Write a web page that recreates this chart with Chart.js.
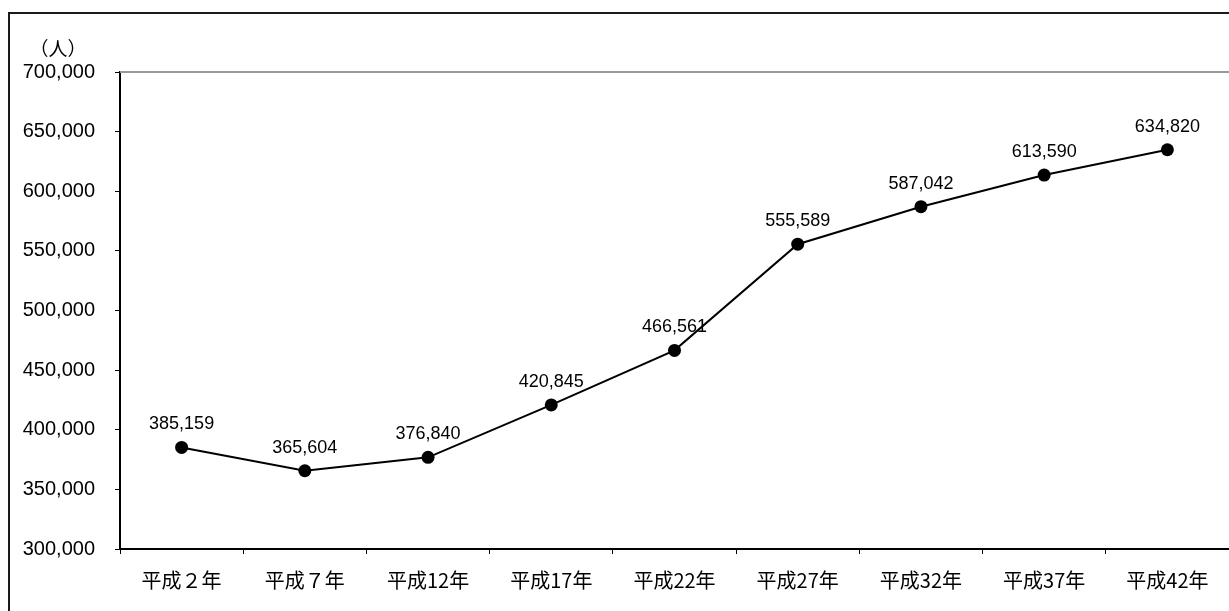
<!DOCTYPE html>
<html>
<head>
<meta charset="utf-8">
<script src="https://cdn.jsdelivr.net/npm/chart.js@4/dist/chart.umd.min.js"></script>
<style>
  html, body { margin: 0; padding: 0; background: #fff; }
  #wrap { width: 1229px; height: 611px; position: relative; }
</style>
</head>
<body>
<div id="wrap"><canvas id="grafico"></canvas></div>
<script>
const categorias = ['平成２年', '平成７年', '平成12年', '平成17年', '平成22年', '平成27年', '平成32年', '平成37年', '平成42年'];
const poblacion = [385159, 365604, 376840, 420845, 466561, 555589, 587042, 613590, 634820];
const ejeMin = 300000;
const ejeMax = 700000;
const ejePaso = 50000;
const unidad = '（人）';

const fmt = v => v.toLocaleString('en-US');

// marco exterior, borde superior gris, unidad y etiquetas de datos
const extras = {
    id: 'extras',
    beforeDraw(chart) {
        const ctx = chart.ctx;
        ctx.save();
        ctx.strokeStyle = '#1a1a1a';
        ctx.lineWidth = 2;
        ctx.strokeRect(9, 13, 1240, 640);
        ctx.restore();
    },
    afterDraw(chart) {
        const ctx = chart.ctx;
        const area = chart.chartArea;
        ctx.save();
        ctx.strokeStyle = '#999';
        ctx.lineWidth = 2;
        ctx.beginPath();
        ctx.moveTo(area.left, area.top);
        ctx.lineTo(area.right, area.top);
        ctx.stroke();

        ctx.fillStyle = '#000';
        ctx.font = '19px "Noto Sans CJK JP"';
        ctx.textAlign = 'center';
        ctx.textBaseline = 'middle';
        ctx.fillText(unidad, 58, 49);

        ctx.font = '18px "Liberation Sans", Arial, sans-serif';
        chart.getDatasetMeta(0).data.forEach((p, i) => {
            ctx.fillText(fmt(poblacion[i]), p.x, p.y - 23);
        });
        ctx.restore();
    }
};

new Chart(document.getElementById('grafico'), {
    type: 'line',
    data: {
        labels: categorias,
        datasets: [{
            data: poblacion,
            borderColor: '#000',
            borderWidth: 2,
            backgroundColor: '#000',
            pointRadius: 6.5,
            pointBackgroundColor: '#000',
            pointBorderWidth: 0,
            tension: 0
        }]
    },
    options: {
        responsive: true,
        maintainAspectRatio: false,
        animation: false,
        layout: { autoPadding: false, padding: { top: 72, right: 0, left: 0, bottom: 0 } },
        plugins: {
            legend: { display: false },
            tooltip: { enabled: false }
        },
        scales: {
            x: {
                offset: true,
                afterFit(s) { s.height = 62; },
                grid: { offset: true, drawOnChartArea: false, color: '#000', tickLength: 5, lineWidth: 1 },
                border: { color: '#000', width: 2 },
                ticks: {
                    color: '#000',
                    padding: 14,
                    maxRotation: 0,
                    font: { family: '"Noto Sans CJK JP"', size: 20 }
                }
            },
            y: {
                min: ejeMin,
                max: ejeMax,
                afterFit(s) { s.width = 120; },
                grid: { drawOnChartArea: false, color: '#000', tickLength: 5 },
                border: { color: '#000', width: 2 },
                ticks: {
                    stepSize: ejePaso,
                    color: '#000',
                    padding: 20,
                    font: { family: '"Liberation Sans", Arial, sans-serif', size: 20 },
                    callback: v => fmt(v)
                }
            }
        }
    },
    plugins: [extras]
});
</script>
</body>
</html>
